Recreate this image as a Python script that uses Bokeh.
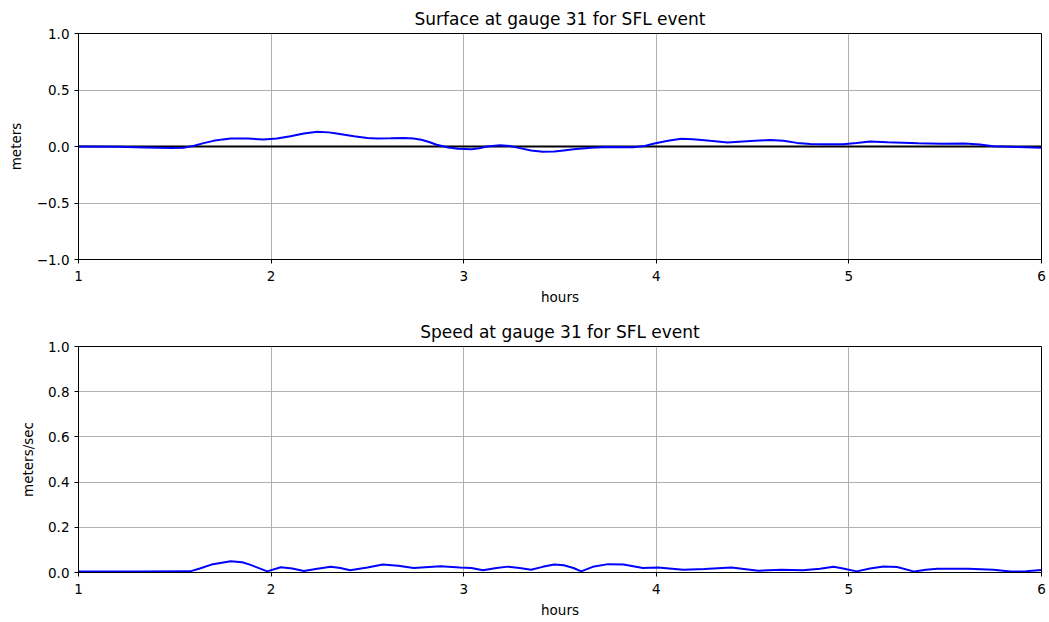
from bokeh.plotting import figure
from bokeh.layouts import column
from bokeh.models import Range1d, FixedTicker
from bokeh.embed import file_html
from bokeh.resources import INLINE

# Surface elevation (hours, meters)
surf_t = [1.0, 1.2, 1.35, 1.48, 1.55, 1.6, 1.65, 1.70, 1.75, 1.79, 1.88, 1.96, 2.03, 2.10, 2.17,
          2.24, 2.30, 2.34, 2.43, 2.50, 2.55, 2.62, 2.69, 2.74, 2.78, 2.82, 2.86, 2.92, 2.97,
          3.04, 3.08, 3.12, 3.19, 3.24, 3.28, 3.35, 3.41, 3.47, 3.52, 3.57, 3.66, 3.75, 3.88,
          3.94, 3.99, 4.06, 4.13, 4.19, 4.28, 4.37, 4.49, 4.59, 4.66, 4.73, 4.80, 4.87, 4.97,
          5.04, 5.11, 5.20, 5.36, 5.48, 5.60, 5.68, 5.75, 5.88, 6.0]
surf_v = [0.0, -0.003, -0.008, -0.014, -0.01, 0.006, 0.03, 0.05, 0.063, 0.07, 0.07, 0.062, 0.07, 0.09, 0.115,
          0.13, 0.125, 0.115, 0.09, 0.076, 0.07, 0.072, 0.075, 0.07, 0.06, 0.04, 0.015, -0.008, -0.02,
          -0.025, -0.015, 0.0, 0.012, 0.005, -0.01, -0.035, -0.047, -0.045, -0.035, -0.025, -0.01, -0.005, -0.006,
          0.005, 0.027, 0.05, 0.068, 0.065, 0.05, 0.036, 0.048, 0.058, 0.05, 0.032, 0.022, 0.02, 0.02,
          0.03, 0.045, 0.037, 0.028, 0.025, 0.027, 0.018, 0.003, -0.005, -0.012]

# Speed (hours, meters/sec)
speed_t = [1.0, 1.3, 1.58, 1.63, 1.69, 1.79, 1.85, 1.89, 1.94, 1.98, 2.05, 2.11, 2.17, 2.24, 2.31, 2.36,
           2.41, 2.50, 2.58, 2.66, 2.74, 2.88, 2.98, 3.04, 3.10, 3.17, 3.23, 3.29, 3.35, 3.41, 3.47,
           3.52, 3.57, 3.61, 3.67, 3.75, 3.83, 3.93, 4.01, 4.14, 4.25, 4.39, 4.53, 4.65, 4.76, 4.85,
           4.92, 4.97, 5.04, 5.11, 5.18, 5.25, 5.34, 5.40, 5.46, 5.62, 5.75, 5.84, 5.92, 6.0]
speed_v = [0.004, 0.004, 0.005, 0.018, 0.035, 0.05, 0.045, 0.035, 0.018, 0.005, 0.023, 0.018, 0.007, 0.017, 0.025, 0.02,
           0.01, 0.022, 0.035, 0.03, 0.02, 0.028, 0.022, 0.02, 0.01, 0.02, 0.026, 0.02, 0.012, 0.025, 0.035,
           0.032, 0.02, 0.005, 0.025, 0.037, 0.035, 0.02, 0.022, 0.012, 0.015, 0.022, 0.008, 0.012, 0.01, 0.017,
           0.025, 0.018, 0.005, 0.018, 0.027, 0.024, 0.004, 0.012, 0.017, 0.017, 0.012, 0.004, 0.006, 0.011]

x_ticks = [1, 2, 3, 4, 5, 6]
surf_ticks = [-1.0, -0.5, 0.0, 0.5, 1.0]
speed_ticks = [0.0, 0.2, 0.4, 0.6, 0.8, 1.0]

FONT = "DejaVu Sans"


def fmt(v):
    s = "%.1f" % v
    return s.replace("-", "\u2212")


def style(p, yticks, ylabel, ystandoff):
    p.title.text_font = FONT
    p.title.text_font_size = "17px"
    p.title.text_font_style = "normal"
    p.title.align = "center"
    p.title.text_color = "black"
    p.outline_line_color = "black"
    p.outline_line_width = 1
    p.outline_line_alpha = 1
    for ax in (p.xaxis[0], p.yaxis[0]):
        ax.axis_line_color = "black"
        ax.major_tick_line_color = "black"
        ax.major_tick_out = 4
        ax.major_tick_in = 0
        ax.minor_tick_line_color = None
        ax.major_label_text_font = FONT
        ax.major_label_text_font_size = "13.5px"
        ax.major_label_text_color = "black"
        ax.axis_label_text_font = FONT
        ax.axis_label_text_font_size = "13.5px"
        ax.axis_label_text_font_style = "normal"
        ax.axis_label_text_color = "black"
    p.xaxis[0].ticker = FixedTicker(ticks=x_ticks)
    p.xaxis[0].major_label_overrides = {t: str(t) for t in x_ticks}
    p.xaxis[0].major_label_standoff = 7
    p.xaxis[0].axis_label = "hours"
    p.xaxis[0].axis_label_standoff = 5
    p.yaxis[0].ticker = FixedTicker(ticks=yticks)
    p.yaxis[0].major_label_overrides = {t: fmt(t) for t in yticks}
    p.yaxis[0].axis_label = ylabel
    p.yaxis[0].axis_label_standoff = ystandoff
    p.xgrid.grid_line_color = "#b0b0b0"
    p.ygrid.grid_line_color = "#b0b0b0"
    p.xgrid.grid_line_width = 1
    p.ygrid.grid_line_width = 1
    p.xgrid.ticker = FixedTicker(ticks=x_ticks)
    p.ygrid.ticker = FixedTicker(ticks=yticks)
    p.background_fill_color = "white"
    p.border_fill_color = "white"


p1 = figure(width=1049, height=311, output_backend="svg", toolbar_location=None,
            x_range=Range1d(1, 6), y_range=Range1d(-1, 1),
            title="Surface at gauge 31 for SFL event",
            min_border_left=78, min_border_right=8, min_border_top=33, min_border_bottom=52)
style(p1, surf_ticks, "meters", 10)
p1.line(x=[1, 6], y=[0, 0], line_color="black", line_width=2)
p1.line(x=surf_t, y=surf_v, line_color="blue", line_width=2)

p2 = figure(width=1049, height=311, output_backend="svg", toolbar_location=None,
            x_range=Range1d(1, 6), y_range=Range1d(0, 1),
            title="Speed at gauge 31 for SFL event",
            min_border_left=78, min_border_right=8, min_border_top=35, min_border_bottom=50)
style(p2, speed_ticks, "meters/sec", 9)
p2.line(x=speed_t, y=speed_v, line_color="blue", line_width=2)

layout = column(p1, p2, spacing=0)
open("out.html", "w").write(file_html(layout, INLINE))
